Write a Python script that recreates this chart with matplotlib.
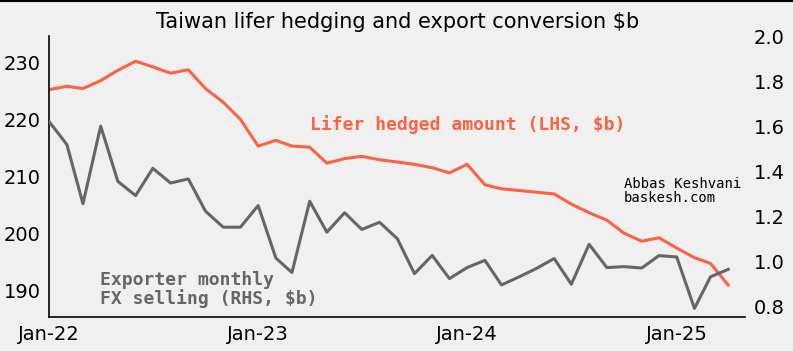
import matplotlib
matplotlib.use("Agg")
import matplotlib.pyplot as plt
import matplotlib.dates as mdates
from matplotlib.lines import Line2D
import numpy as np
import pandas as pd

# monthly, Jan-22 .. Apr-25
months = pd.date_range("2022-01-01", "2025-04-01", freq="MS")

# lifer hedged amount, LHS ($b)
lifer_hedged = [225.2, 225.8, 225.4, 226.8, 228.6, 230.2, 229.2, 228.1, 228.7, 225.4,
                223.0, 220.0, 215.3, 216.3, 215.3, 215.1, 212.3, 213.1, 213.5, 212.9,
                212.5, 212.1, 211.5, 210.6, 212.1, 208.5, 207.8, 207.5, 207.2, 206.9,
                205.1, 203.6, 202.3, 200.0, 198.6, 199.2, 197.4, 195.7, 194.7, 190.9]

# exporter monthly FX selling, RHS ($b)
fx_selling = [1.621, 1.519, 1.257, 1.601, 1.356, 1.293, 1.414, 1.349, 1.367, 1.224,
              1.153, 1.153, 1.249, 1.016, 0.952, 1.268, 1.131, 1.217, 1.143, 1.175,
              1.102, 0.947, 1.028, 0.925, 0.974, 1.006, 0.897, 0.933, 0.970, 1.014,
              0.900, 1.077, 0.974, 0.978, 0.972, 1.027, 1.021, 0.793, 0.933, 0.966]

bg = "#f0f0f0"
orange = "#fc6244"
grey = "#666666"

fig = plt.figure(figsize=(7.93, 3.51), dpi=100, facecolor=bg)
ax = fig.add_axes([0.062, 0.097, 0.878, 0.8])
ax.set_facecolor(bg)
ax2 = ax.twinx()

ax.plot(months, lifer_hedged, color=orange, lw=2.2)
ax2.plot(months, fx_selling, color=grey, lw=2.2)

ax.set_ylim(185.3, 234.6)
ax2.set_ylim(0.755, 2.0)
ax.set_yticks([190, 200, 210, 220, 230])
ax2.set_yticks([0.8, 1.0, 1.2, 1.4, 1.6, 1.8, 2.0])
ax.set_xlim(pd.Timestamp("2022-01-01"), pd.Timestamp("2025-05-01"))
ax.set_xticks(pd.to_datetime(["2022-01-01", "2023-01-01", "2024-01-01", "2025-01-01"]))
ax.xaxis.set_major_formatter(mdates.DateFormatter("%b-%y"))

for a in (ax, ax2):
    a.tick_params(length=0, labelsize=14, pad=6)
    for s in ["top", "right"]:
        a.spines[s].set_visible(False)
ax2.spines["left"].set_visible(False)
ax2.spines["bottom"].set_visible(False)
ax.spines["left"].set_linewidth(1.2)
ax.spines["bottom"].set_linewidth(1.2)

ax.set_title("Taiwan lifer hedging and export conversion $b", fontsize=15, pad=6)

fig.text(0.391, 0.645, "Lifer hedged amount (LHS, $b)", family="DejaVu Sans Mono",
         fontweight="bold", fontsize=13, color=orange, va="center")
fig.text(0.126, 0.175, "Exporter monthly\nFX selling (RHS, $b)", family="DejaVu Sans Mono",
         fontweight="bold", fontsize=13, color=grey, va="center", linespacing=1.05)
fig.text(0.787, 0.455, "Abbas Keshvani\nbaskesh.com", family="DejaVu Sans Mono",
         fontsize=10, color="black", va="center", linespacing=1.0)

fig.add_artist(Line2D([0, 1], [0.998, 0.998], color="black", lw=1.5, transform=fig.transFigure))

fig.savefig("out.png", dpi=100, facecolor=bg)
